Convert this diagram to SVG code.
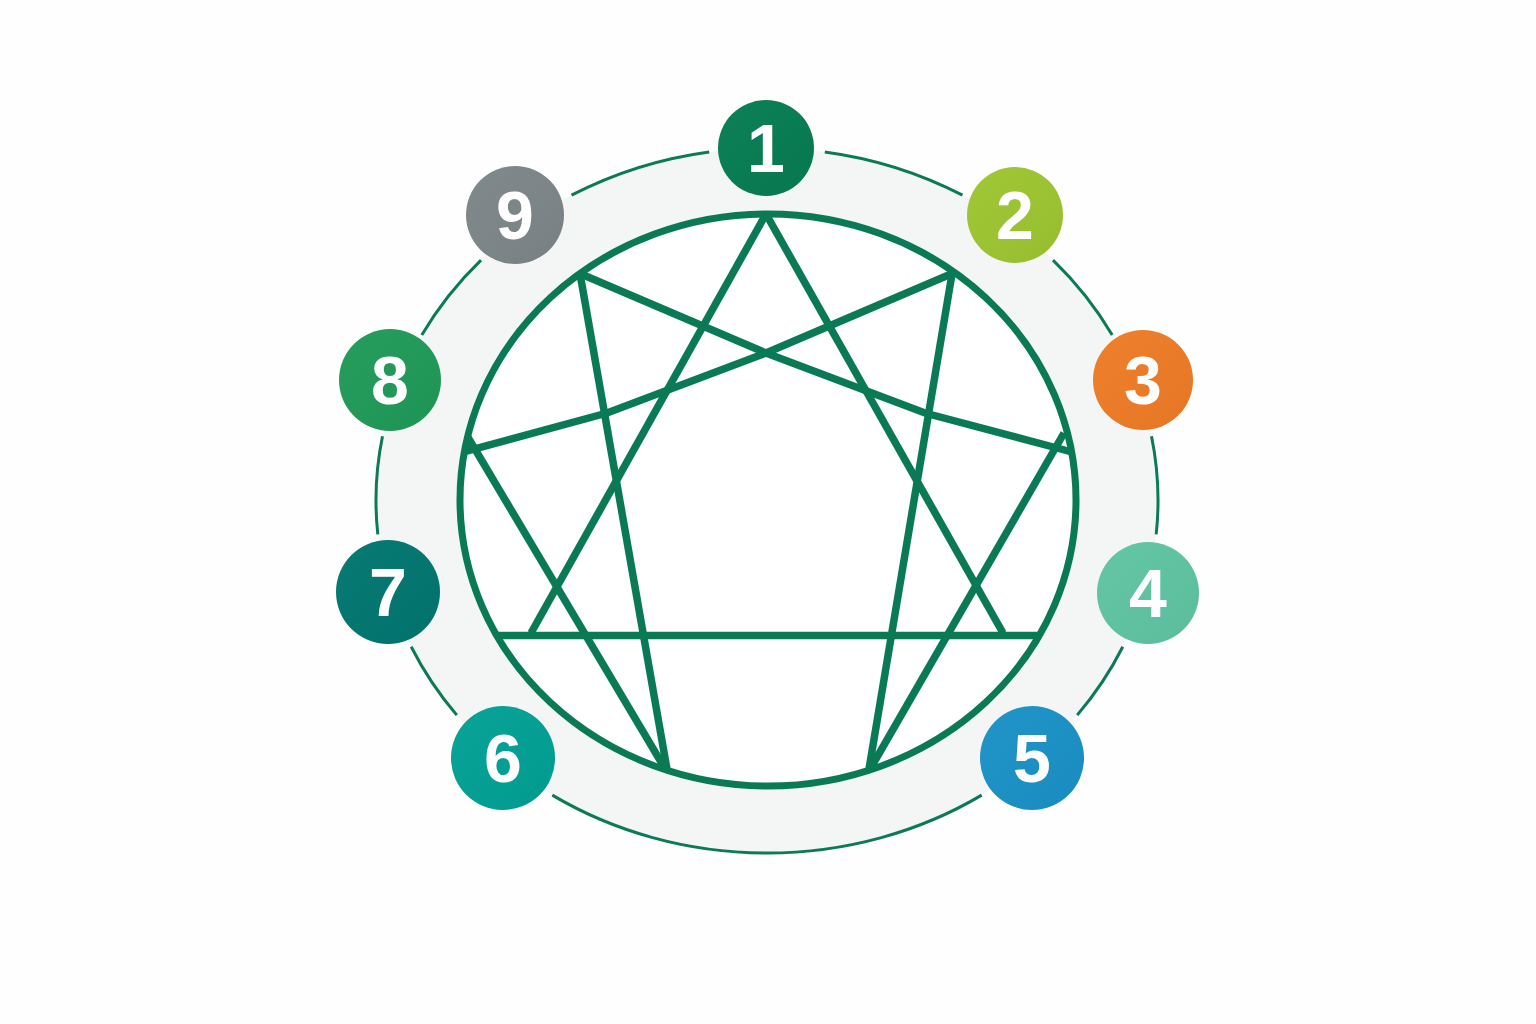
<svg xmlns="http://www.w3.org/2000/svg" width="1536" height="1024" viewBox="0 0 1536 1024">
  <style>
    .arc { fill: none; stroke: #0b7a56; stroke-width: 3; stroke-linecap: butt; }
    .fig { fill: none; stroke: #0a7a55; stroke-width: 7.5; stroke-linecap: butt; stroke-linejoin: miter; }
    .num { font-family: "Liberation Sans", Arial, sans-serif; font-weight: 700; font-size: 68px; fill: #ffffff; text-anchor: middle; }
  </style>
  <defs>
    <linearGradient id="shade" x1="0" y1="0" x2="1" y2="1">
      <stop offset="0" stop-color="#ffffff" stop-opacity="0.03"/>
      <stop offset="1" stop-color="#000000" stop-opacity="0.04"/>
    </linearGradient>
    <clipPath id="inner">
      <ellipse cx="768" cy="500" rx="308" ry="286"/>
    </clipPath>
  </defs>

  <rect x="0" y="0" width="1536" height="1024" fill="#fefefe"/>

  <!-- pale band -->
  <ellipse cx="767" cy="500.5" rx="391" ry="352.5" fill="#f4f6f6"/>
  <ellipse cx="768" cy="500" rx="308" ry="286" fill="#ffffff"/>

  <!-- inner figure -->
  <g id="figure" clip-path="url(#inner)">
    <polyline class="fig" points="574,271 766,353 925,413 1072,452"/>
    <polyline class="fig" points="958,271 766,353 607,413 460,453"/>
    <line class="fig" x1="766" y1="214" x2="531" y2="633"/>
    <line class="fig" x1="766" y1="214" x2="1003" y2="633"/>
    <line class="fig" x1="579" y1="268" x2="668" y2="775"/>
    <line class="fig" x1="953" y1="268" x2="868" y2="775"/>
    <line class="fig" x1="466" y1="434" x2="667" y2="772"/>
    <line class="fig" x1="1064" y1="433" x2="869" y2="771"/>
    <line class="fig" x1="470" y1="635.5" x2="1066" y2="635.5" stroke-width="9"/>
  </g>
  <ellipse id="inner-ring" cx="768" cy="500" rx="308" ry="286" fill="none" stroke="#0a7a55" stroke-width="7"/>

  <!-- connectors: outer ring arcs -->
  <g id="connectors">
    <path class="arc" d="M571.5,195.2 A391,352.5 0 0 1 709.2,151.9"/>
    <path class="arc" d="M824.8,151.9 A391,352.5 0 0 1 962.5,195.2"/>
    <path class="arc" d="M1053,260.1 A391,352.5 0 0 1 1112.2,335"/>
    <path class="arc" d="M1151.5,436.3 A391,352.5 0 0 1 1156.2,534.3"/>
    <path class="arc" d="M1122.8,646.7 A391,352.5 0 0 1 1077.2,715.1"/>
    <path class="arc" d="M981.7,795.1 A391,352.5 0 0 1 552.3,795.1"/>
    <path class="arc" d="M456.8,715.1 A391,352.5 0 0 1 411.2,646.7"/>
    <path class="arc" d="M377.8,534.3 A391,352.5 0 0 1 382.5,436.3"/>
    <path class="arc" d="M421.8,335 A391,352.5 0 0 1 481,260.1"/>
  </g>

  <!-- nodes -->
  <g id="node-1">
    <circle cx="766" cy="148" r="48" fill="#067c52"/>
    <circle cx="766" cy="148" r="48" fill="url(#shade)"/>
    <text class="num" x="766" y="172">1</text>
  </g>
  <g id="node-2">
    <circle cx="1015" cy="215" r="48" fill="#9dc530"/>
    <circle cx="1015" cy="215" r="48" fill="url(#shade)"/>
    <text class="num" x="1015" y="239">2</text>
  </g>
  <g id="node-3">
    <circle cx="1143" cy="380" r="50" fill="#ee7b25"/>
    <circle cx="1143" cy="380" r="50" fill="url(#shade)"/>
    <text class="num" x="1143" y="404">3</text>
  </g>
  <g id="node-4">
    <circle cx="1148" cy="593" r="51" fill="#5ec4a1"/>
    <circle cx="1148" cy="593" r="51" fill="url(#shade)"/>
    <text class="num" x="1148" y="617">4</text>
  </g>
  <g id="node-5">
    <circle cx="1032" cy="758" r="52" fill="#1a91c6"/>
    <circle cx="1032" cy="758" r="52" fill="url(#shade)"/>
    <text class="num" x="1032" y="782">5</text>
  </g>
  <g id="node-6">
    <circle cx="503" cy="758" r="52" fill="#01a095"/>
    <circle cx="503" cy="758" r="52" fill="url(#shade)"/>
    <text class="num" x="503" y="782">6</text>
  </g>
  <g id="node-7">
    <circle cx="388" cy="592" r="52" fill="#00766f"/>
    <circle cx="388" cy="592" r="52" fill="url(#shade)"/>
    <text class="num" x="388" y="616">7</text>
  </g>
  <g id="node-8">
    <circle cx="390" cy="380" r="51" fill="#1f9a57"/>
    <circle cx="390" cy="380" r="51" fill="url(#shade)"/>
    <text class="num" x="390" y="404">8</text>
  </g>
  <g id="node-9">
    <circle cx="515" cy="215" r="49" fill="#7c8588"/>
    <circle cx="515" cy="215" r="49" fill="url(#shade)"/>
    <text class="num" x="515" y="239">9</text>
  </g>
</svg>
